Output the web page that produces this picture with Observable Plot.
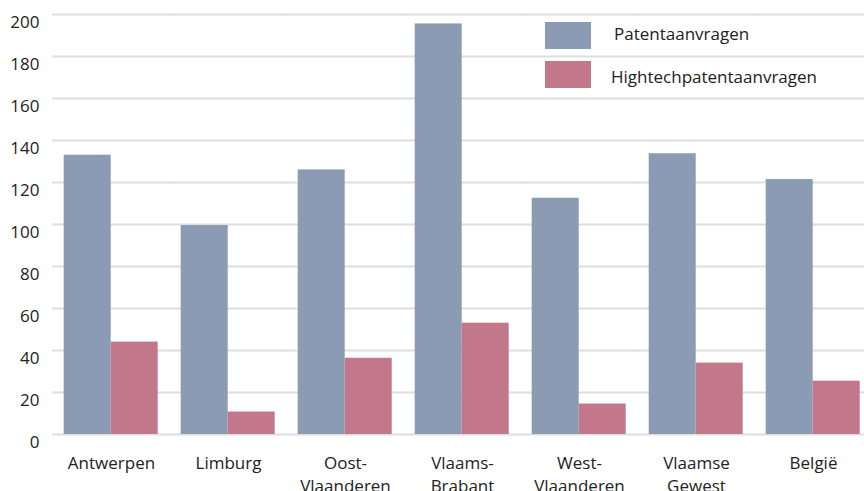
<!DOCTYPE html>
<html><head><meta charset="utf-8">
<script src="https://cdn.jsdelivr.net/npm/d3@7"></script>
<script src="https://cdn.jsdelivr.net/npm/@observablehq/plot@0.6"></script>
<style>
body{margin:0;background:#fff;font-family:"Open Sans",sans-serif;}
#wrap{position:relative;width:864px;height:491px;overflow:hidden;}
.sw{position:absolute;width:46px;height:27px;}
.lt{position:absolute;font-size:17px;color:#222;line-height:20px;white-space:nowrap;}
</style>
</head><body><div id="wrap"></div>
<script>
const regions = ["Antwerpen","Limburg","Oost-Vlaanderen","Vlaams-Brabant","West-Vlaanderen","Vlaamse Gewest","België"];
const regionLabels = ["Antwerpen","Limburg","Oost-\nVlaanderen","Vlaams-\nBrabant","West-\nVlaanderen","Vlaamse\nGewest","België"];
const series = ["Patentaanvragen","Hightechpatentaanvragen"];
const patent = [133,99.5,126,195.5,112.5,133.7,121.4];
const hightech = [44,10.7,36.3,53,14.5,34,25.4];
const yTicks = [0,20,40,60,80,100,120,140,160,180,200];
const colors = ["#8a9bb3","#c3778a"];

const data = regions.flatMap((r,i)=>[
  {region:r, series:series[0], value:patent[i]},
  {region:r, series:series[1], value:hightech[i]}
]);

const chart = Plot.plot({
  width: 864, height: 491,
  marginLeft: 51.3, marginRight: -8.7, marginTop: 14, marginBottom: 57,
  style: {fontFamily: '"Open Sans", sans-serif', fontSize: "17px", color: "#222", background: "#fff"},
  fx: {domain: regions, paddingInner: 0.199, paddingOuter: 0.0995, label: null},
  x: {domain: series, padding: 0, axis: null},
  y: {domain: [0,200]},
  color: {domain: series, range: colors},
  marks: [
    Plot.ruleY(yTicks, {y: d=>d, insetLeft: -11.7, insetRight: -11.7, stroke: "#dedede", strokeWidth: 2, strokeOpacity: 1}),
    Plot.axisY({ticks: yTicks, tickSize: 0, tickPadding: 25, dy: 8, label: null, fontSize: 17, fill: "#222"}),
    Plot.barY(data, {fx: "region", x: "series", y: "value", fill: "series"}),
    Plot.axisFx({anchor: "bottom", tickSize: 0, tickPadding: 17, label: null, lineHeight: 1.41, fontSize: 17, fill: "#222",
      tickFormat: d => regionLabels[regions.indexOf(d)]})
  ]
});
const wrap = document.getElementById("wrap");
wrap.appendChild(chart);

// legend overlay
const legendItems = [
  {label: series[0], color: colors[0], sx: 545, sy: 22, tx: 614, ty: 24},
  {label: series[1], color: colors[1], sx: 545, sy: 61, tx: 611, ty: 67}
];
legendItems.forEach(it => {
  const s = document.createElement("div");
  s.className = "sw"; s.style.left = it.sx + "px"; s.style.top = it.sy + "px"; s.style.background = it.color;
  wrap.appendChild(s);
  const t = document.createElement("div");
  t.className = "lt"; t.style.left = it.tx + "px"; t.style.top = it.ty + "px"; t.textContent = it.label;
  wrap.appendChild(t);
});
</script>
</body></html>
